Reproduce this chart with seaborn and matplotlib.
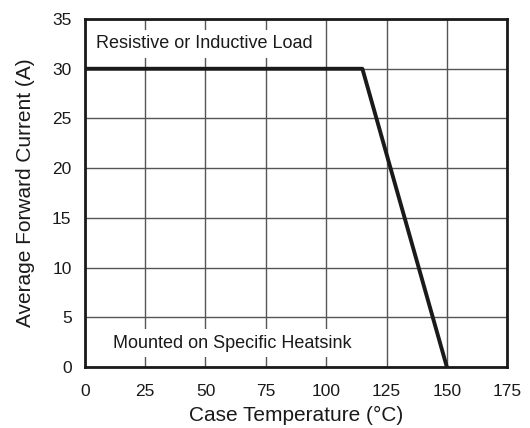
import numpy as np
import pandas as pd
import matplotlib
matplotlib.use("Agg")
import matplotlib.pyplot as plt
import seaborn as sns

# derating curve
case_temp = [0, 115, 150]
avg_current = [30, 30, 0]
x_ticks = [0, 25, 50, 75, 100, 125, 150, 175]
y_ticks = [0, 5, 10, 15, 20, 25, 30, 35]

sns.set_theme(style="white")
plt.rcParams['font.family'] = ['Liberation Sans', 'DejaVu Sans']

df = pd.DataFrame({"temp": case_temp, "current": avg_current})

fig = plt.figure(figsize=(5.3, 4.28), dpi=100)
ax = fig.add_axes([0.160, 0.1425, 0.797, 0.813])

sns.lineplot(data=df, x="temp", y="current", ax=ax, color="#1a1a1a",
             linewidth=2.8, zorder=5)

ax.set_xlim(0, 175)
ax.set_ylim(0, 35)
ax.set_xticks(x_ticks)
ax.set_yticks(y_ticks)
ax.grid(True, color="#555555", linewidth=1.0)
ax.set_axisbelow(True)
for s in ax.spines.values():
    s.set_visible(True)
    s.set_color("#1a1a1a")
    s.set_linewidth(2.0)
ax.tick_params(length=0, labelsize=12.5, colors="#1a1a1a")
ax.tick_params(axis="x", pad=12)
ax.tick_params(axis="y", pad=9.5)

ax.set_xlabel("Case Temperature (°C)", fontsize=15, color="#1a1a1a", labelpad=5)
ax.set_ylabel("Average Forward Current (A)", fontsize=15, color="#1a1a1a", labelpad=12)

box = dict(facecolor="white", edgecolor="none", pad=4)
ax.text(4.6, 32.5, "Resistive or Inductive Load", fontsize=13, va="center",
        ha="left", color="#1a1a1a", bbox=box, zorder=4)
ax.text(11.6, 2.4, "Mounted on Specific Heatsink", fontsize=13, va="center",
        ha="left", color="#1a1a1a", bbox=box, zorder=4)

fig.savefig("out.png", dpi=100)
